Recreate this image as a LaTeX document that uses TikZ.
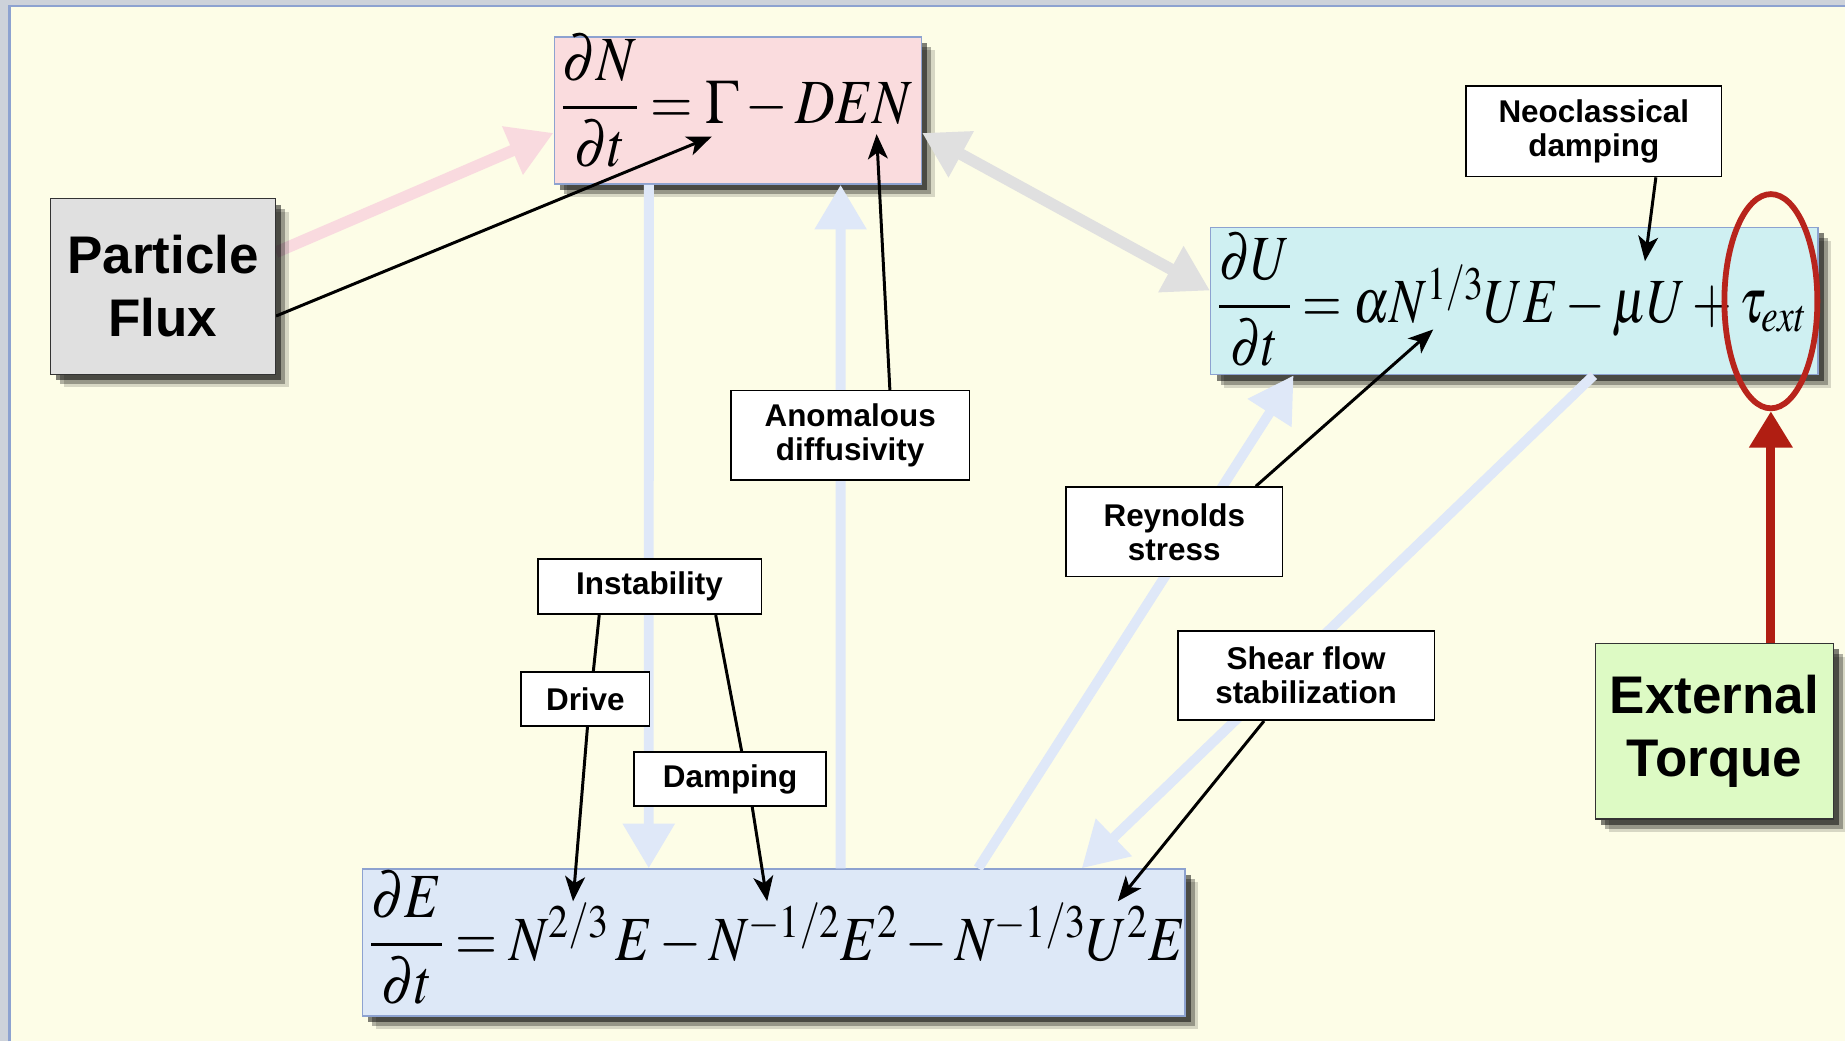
\documentclass[tikz,border=0pt]{standalone}
\usepackage{amsmath}
\usepackage{graphicx}
\usepackage{mathptmx}
\usepackage[no-math]{fontspec}
\setmainfont{Liberation Sans}
\usepackage{tikz}
\usetikzlibrary{calc,arrows.meta,positioning,shapes.geometric,shadows}
\definecolor{paperc}{HTML}{FDFDE7}
\definecolor{frameg}{HTML}{CDD2DA}
\definecolor{frameb}{HTML}{8DA2D0}
\definecolor{pinkc}{HTML}{FADCDE}
\definecolor{cyanc}{HTML}{CFF0F2}
\definecolor{ebluec}{HTML}{DDE8F7}
\definecolor{fluxc}{HTML}{E0E0E0}
\definecolor{torquec}{HTML}{DDFAC4}
\definecolor{pinkarc}{HTML}{F9DADF}
\definecolor{grayarc}{HTML}{E0E0E0}
\definecolor{bluearc}{HTML}{DFE8F8}
\definecolor{redarc}{HTML}{B01E12}
\definecolor{ringc}{HTML}{B8241C}
\pgfdeclarelayer{bg}
\pgfdeclarelayer{links}
\pgfsetlayers{bg,links,main}
\tikzset{
  shd/.style={drop shadow={shadow xshift=8pt,shadow yshift=-8pt,fill=black,opacity=.15},
    drop shadow={shadow xshift=6pt,shadow yshift=-6pt,fill=black,opacity=.3},
    drop shadow={shadow xshift=3.5pt,shadow yshift=-3.5pt,fill=black,opacity=.5}},
  eqbox/.style={draw=frameb,line width=0.8pt,align=left,inner sep=4pt,font=\fontsize{38}{40}\selectfont,shd},
  bigbox/.style={draw=black!80,line width=0.8pt,align=center,inner sep=0pt,font=\fontsize{32}{38}\selectfont\bfseries,shd},
  lab/.style={draw=black,fill=white,line width=1pt,align=center,inner sep=0pt,font=\fontsize{19}{20.6}\selectfont\bfseries},
  ar/.style={-{Stealth[length=15pt,width=12pt,inset=4pt]},line width=1.8pt},
  fat/.style={line width=7pt,-{Triangle[length=27pt,width=30pt]}},
  redar/.style={line width=5.5pt,redarc,-{Triangle[length=22pt,width=25pt]}}
}
\begin{document}
\begin{tikzpicture}[x=0.025cm,y=-0.025cm]
\useasboundingbox (0,0) rectangle (1568,885);
\begin{pgfonlayer}{bg}
\fill[frameg] (0,0) rectangle (1568,885);
\fill[paperc] (8,5) rectangle (1568,885);
\draw[frameb,line width=1.5pt] (8,885) -- (8,5) -- (1568,5);
\node[eqbox,fill=pinkc,minimum width=7.8cm,minimum height=3.05cm,text width=7.5cm] (neq) at (627,94) {\raisebox{6pt}[\height][\depth]{\scalebox{0.87}[1]{$\dfrac{\partial N}{\partial t}=\Gamma-DEN$}}};
\node[eqbox,fill=cyanc,minimum width=12.9cm,minimum height=3.05cm,text width=12.6cm] (ueq) at (1287,256) {\raisebox{1pt}[\height][\depth]{\scalebox{0.81}[1]{$\dfrac{\partial U}{\partial t}=\alpha N^{1/3}UE-\mu U+\tau_{ext}$}}};
\node[eqbox,fill=ebluec,minimum width=17.475cm,minimum height=3.05cm,text width=17.17cm] (eeq) at (657.5,801) {\raisebox{3pt}[\height][\depth]{\scalebox{0.86}[1]{$\dfrac{\partial E}{\partial t}=N^{2/3}\,E-N^{-1/2}E^{2}-N^{-1/3}U^{2}E$}}};
\end{pgfonlayer}
\node[bigbox,fill=fluxc,minimum width=4.775cm,minimum height=3.725cm] (flux) at (138.5,243.5) {Particle\\Flux};
\node[bigbox,fill=torquec,minimum width=5.05cm,minimum height=3.725cm] (torque) at (1457,621.5) {External\\Torque};
\node[ellipse,draw=ringc,line width=3.5pt,minimum width=1.975cm,minimum height=4.55cm,inner sep=0pt] (tauring) at (1505,256) {};
\node[lab,minimum width=5.425cm,minimum height=1.925cm] (neo) at (1354.5,111.5) {Neoclassical\\damping};
\node[lab,minimum width=5.075cm,minimum height=1.9cm] (anom) at (722.5,370) {Anomalous\\diffusivity};
\node[lab,minimum width=4.75cm,minimum height=1.175cm] (inst) at (552,498.5) {Instability};
\node[lab,minimum width=2.725cm,minimum height=1.15cm] (drive) at (497.5,594) {Drive};
\node[lab,minimum width=4.075cm,minimum height=1.15cm] (damp) at (620.5,662) {Damping};
\node[lab,minimum width=4.6cm,minimum height=1.9cm] (reyn) at (998,452) {Reynolds\\stress};
\node[lab,minimum width=5.45cm,minimum height=1.9cm] (shear) at (1110,574) {Shear flow\\stabilization};
\coordinate (gam) at (605,116);
\coordinate (den) at (745,114);
\coordinate (mu) at (1398,222);
\coordinate (alp) at (1218,280);
\coordinate (edrive) at (487,766);
\coordinate (edamp) at (652,766);
\coordinate (eshear) at (950,766);
\begin{pgfonlayer}{links}
\draw[fat,pinkarc] ($(flux.north east)+(0,46)$) -- ($(neq.north west)+(0,82)$);
\draw[fat,grayarc,{Triangle[length=27pt,width=30pt]}-{Triangle[length=27pt,width=30pt]}] ($(neq.north east)+(0,82)$) -- ($(ueq.north west)+(0,54)$);
\draw[fat,bluearc,line width=6pt] ($(neq.south west)+(81,0)$) -- ($(eeq.north west)+(244,0)$);
\draw[fat,bluearc,line width=6pt] ($(eeq.north west)+(407,0)$) -- ($(neq.south west)+(244,0)$);
\draw[fat,bluearc,line width=6pt] ($(eeq.north west)+(524,0)$) -- ($(ueq.south west)+(71,0)$);
\draw[fat,bluearc,line width=6pt] ($(ueq.south west)+(326,0)$) -- ($(eeq.north west)+(612,0)$);
\draw[ar] ($(flux.south east)+(0,-50)$) -- (gam);
\draw[ar] ($(anom.north west)+(136,0)$) -- (den);
\draw[ar] ($(neo.south west)+(162,0)$) -- (mu);
\draw[ar] ($(reyn.north west)+(162,0)$) -- (alp);
\draw[ar] ($(shear.south west)+(74,0)$) -- (eshear);
\draw[line width=1.8pt] ($(inst.south west)+(53,0)$) -- ($(drive.north west)+(62,0)$);
\draw[ar] ($(drive.south west)+(57,0)$) -- (edrive);
\draw[line width=1.8pt] ($(inst.south west)+(152,0)$) -- ($(damp.north west)+(92,0)$);
\draw[ar] ($(damp.south west)+(101,0)$) -- (edamp);
\draw[redar] (torque.north -| tauring.south) -- (tauring.south);
\end{pgfonlayer}
\end{tikzpicture}
\end{document}
